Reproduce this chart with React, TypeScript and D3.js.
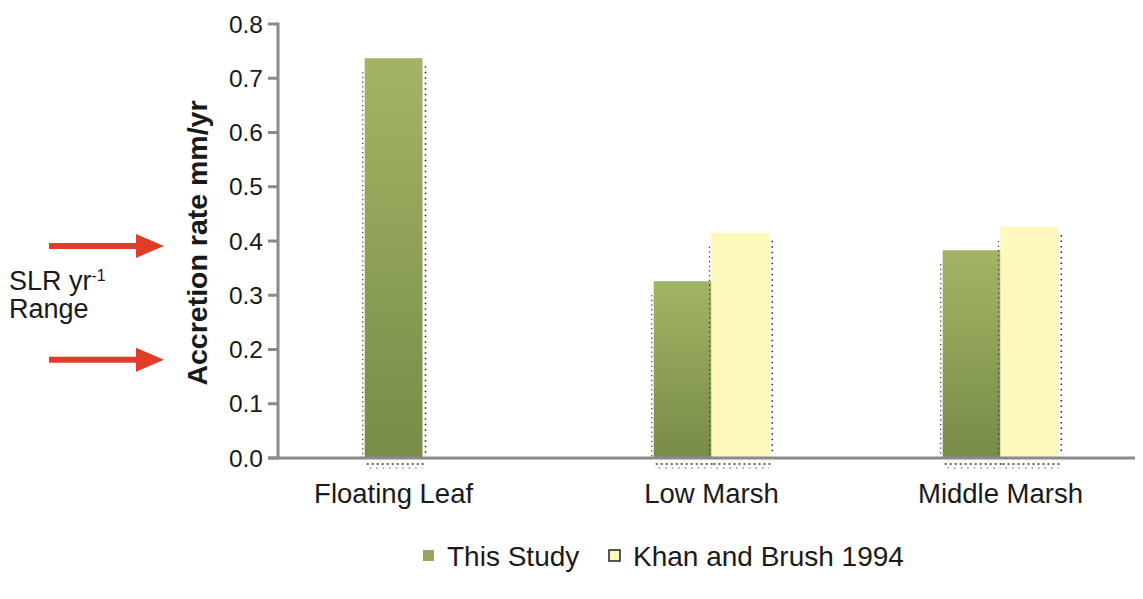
import React from "react";
import * as d3 from "d3";

const categories = ["Floating Leaf", "Low Marsh", "Middle Marsh"];
const seriesNames = ["This Study", "Khan and Brush 1994"];
const thisStudy: (number | null)[] = [0.737, 0.326, 0.383];
const khanBrush: (number | null)[] = [null, 0.415, 0.426];
const yTicks = [0, 0.1, 0.2, 0.3, 0.4, 0.5, 0.6, 0.7, 0.8];
const slrRange = [0.391, 0.181];

const W = 1143;
const H = 599;
const FONT = "'Liberation Sans', Arial, Helvetica, sans-serif";

export default function App() {
  const x = d3.scaleBand<string>().domain(categories).range([278, 1145]).paddingInner(0.6).paddingOuter(0.3);
  const xs = d3.scaleBand<string>().domain(["a", "b"]).range([0, x.bandwidth()]).padding(0);
  const y = d3.scaleLinear().domain([0, 0.8]).range([458, 24]);
  const fills = ["url(#gGreen)", "#fef8bb"];
  const series = [thisStudy, khanBrush];

  return (
    <div style={{ margin: -8 }}>
      <svg width={W} height={H} style={{ display: "block", background: "#fff" }} fontFamily={FONT}>
        <defs>
          <linearGradient id="gGreen" x1="0" y1="0" x2="0" y2="1">
            <stop offset="0%" stopColor="#a2b565" />
            <stop offset="100%" stopColor="#788b48" />
          </linearGradient>
        </defs>

        {/* bars */}
        {categories.map((c, ci) => {
          const vals = series.map((s) => s[ci]);
          const present = vals.map((v, i) => (v == null ? -1 : i)).filter((i) => i >= 0);
          const x0 = x(c)!;
          return (
            <g key={c}>
              {vals.map((v, si) => {
                if (v == null) return null;
                const bx = x0 + xs(si === 0 ? "a" : "b")!;
                const bw = xs.bandwidth();
                return (
                  <g key={si}>
                    <rect x={bx} y={y(v)} width={bw} height={y(0) - y(v)} fill={fills[si]} />
                    <line x1={bx - 2} x2={bx - 2} y1={y(v) + 14} y2={y(0)} stroke="#333" strokeWidth={1.2} strokeDasharray="1.2 3.5" />
                    <line x1={bx + bw + 3} x2={bx + bw + 3} y1={y(v) + 8} y2={y(0) - 4} stroke="#222" strokeWidth={1.5} strokeDasharray="1.5 4" />
                    <line x1={bx + 2} x2={bx + bw + 2} y1={y(0) + 6} y2={y(0) + 6} stroke="#333" strokeWidth={1.5} strokeDasharray="2 3" />
                    <line x1={bx + 5} x2={bx + bw} y1={y(0) + 10} y2={y(0) + 10} stroke="#555" strokeWidth={1.2} strokeDasharray="1.5 5" />
                  </g>
                );
              })}
              {(() => {
                const first = x0 + xs(present[0] === 0 ? "a" : "b")!;
                const last = x0 + xs(present[present.length - 1] === 0 ? "a" : "b")! + xs.bandwidth();
                return (
                  <text x={(first + last) / 2} y={y(0) + 45} textAnchor="middle" fontSize={27.5} fill="#1a1a1a">
                    {c}
                  </text>
                );
              })()}
            </g>
          );
        })}

        {/* y axis */}
        <line x1={278} x2={278} y1={y(0.8) - 1.5} y2={y(0) + 1.5} stroke="#8a8a8a" strokeWidth={3} />
        {yTicks.map((t) => (
          <g key={t}>
            <line x1={268} x2={278} y1={y(t)} y2={y(t)} stroke="#8a8a8a" strokeWidth={3} />
            <text x={263} y={y(t) + 8.5} textAnchor="end" fontSize={24.5} fill="#1a1a1a">
              {d3.format(".1f")(t)}
            </text>
          </g>
        ))}
        {/* x axis */}
        <line x1={268} x2={1143} y1={y(0)} y2={y(0)} stroke="#8a8a8a" strokeWidth={3} />

        <text transform={`translate(207, 243) rotate(-90)`} textAnchor="middle" fontSize={28.5} fontWeight="bold" fill="#1a1a1a">
          Accretion rate mm/yr
        </text>

        {/* SLR arrows */}
        {slrRange.map((v, i) => (
          <g key={i}>
            <line x1={49} x2={140} y1={y(v)} y2={y(v)} stroke="#e23b27" strokeWidth={6} />
            <path d={`M136,${y(v) - 12} L164,${y(v)} L136,${y(v) + 12} Z`} fill="#e23b27" />
          </g>
        ))}
        <text x={9} y={290} fontSize={27} fill="#1a1a1a">
          SLR yr<tspan fontSize={16} dy={-9}>-1</tspan>
        </text>
        <text x={9} y={318} fontSize={27} fill="#1a1a1a">Range</text>

        {/* legend */}
        <rect x={423} y={550} width={11} height={11} fill="#93a85a" />
        <text x={447} y={566} fontSize={28} fill="#1a1a1a">{seriesNames[0]}</text>
        <rect x={609} y={550} width={11} height={11} fill="#fef8bb" stroke="#222" strokeWidth={1.5} />
        <text x={633} y={566} fontSize={28} fill="#1a1a1a">{seriesNames[1]}</text>
      </svg>
    </div>
  );
}
